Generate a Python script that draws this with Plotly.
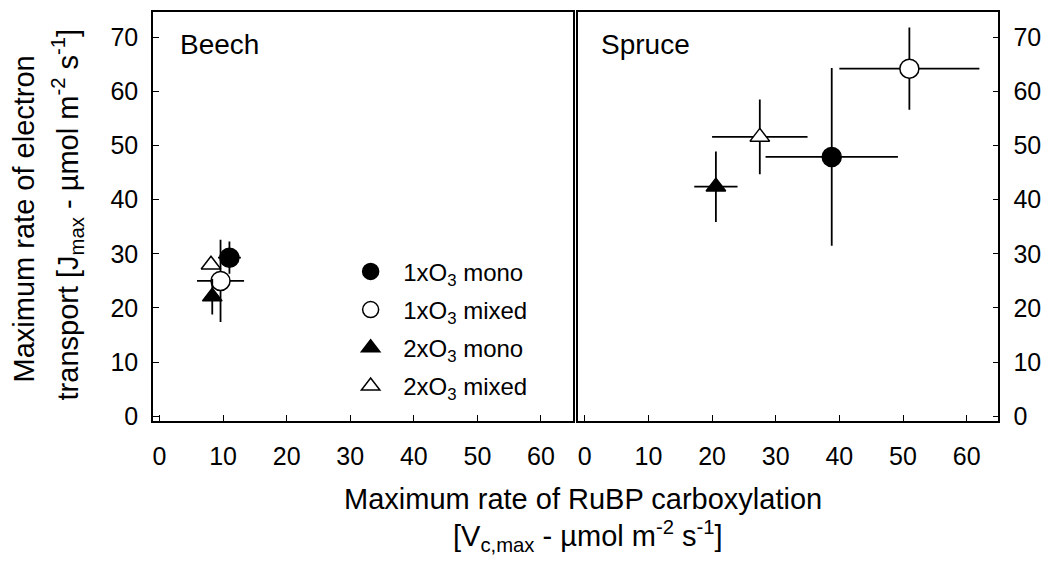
import plotly.graph_objects as go

# ---- data ----
series = ["1xO<sub>3</sub> mono", "1xO<sub>3</sub> mixed", "2xO<sub>3</sub> mono", "2xO<sub>3</sub> mixed"]
symbols = ["circle", "circle-open", "triangle-up", "triangle-up-open"]
fills = ["black", "white", "black", "white"]

beech_vc = [11.0, 9.6, 8.3, 8.1]
beech_vc_err = [1.8, 3.7, 1.0, 0.8]
beech_j = [29.3, 25.0, 22.1, 28.0]
beech_j_err = [3.0, 7.6, 3.3, 0.0]

spruce_vc = [38.8, 51.0, 20.6, 27.5]
spruce_vc_err = [10.4, 11.0, 3.4, 7.5]
spruce_j = [47.9, 64.2, 42.4, 51.6]
spruce_j_err = [16.4, 7.6, 6.5, 6.9]

x_ticks = [0, 10, 20, 30, 40, 50, 60]
y_ticks = [0, 10, 20, 30, 40, 50, 60, 70]

FONT = "Liberation Sans, Arial, sans-serif"

fig = go.Figure()

def add_panel(xs, xe, ys, ye, xa, ya, legend):
    for i in range(4):
        sym = symbols[i].replace("-open", "")
        fig.add_trace(go.Scatter(
            x=[xs[i]], y=[ys[i]], xaxis=xa, yaxis=ya,
            mode="markers", name=series[i],
            legendgroup=f"g{i}", showlegend=legend,
            marker=dict(symbol=sym, size=19 if sym == "circle" else 17,
                        color=fills[i], line=dict(color="black", width=1.5)),
            error_x=dict(type="data", array=[xe[i]], color="black", thickness=1.8, width=0),
            error_y=dict(type="data", array=[ye[i]], color="black", thickness=1.8, width=0),
        ))

add_panel(beech_vc, beech_vc_err, beech_j, beech_j_err, "x", "y", True)
add_panel(spruce_vc, spruce_vc_err, spruce_j, spruce_j_err, "x2", "y2", False)

axis_common = dict(
    showline=True, linecolor="black", linewidth=1.8, mirror=True,
    ticks="inside", ticklen=6, tickwidth=1.3, tickcolor="black",
    showgrid=False, zeroline=False,
    tickfont=dict(family=FONT, size=25, color="black"),
)

fig.update_layout(
    width=1048, height=563,
    margin=dict(l=0, r=0, t=0, b=0),
    paper_bgcolor="white", plot_bgcolor="white",
    font=dict(family=FONT, color="black"),
    xaxis=dict(domain=[0.1453, 0.5461], range=[-1, 65], tickvals=x_ticks,
               anchor="y", ticklabelstandoff=12, **axis_common),
    xaxis2=dict(domain=[0.5515, 0.9527], range=[-1, 65], tickvals=x_ticks,
                anchor="y2", ticklabelstandoff=12, **axis_common),
    yaxis=dict(domain=[0.2398, 0.9787], range=[-0.9, 74.7], tickvals=y_ticks,
               anchor="x", ticklabelstandoff=8, **axis_common),
    yaxis2=dict(domain=[0.2398, 0.9787], range=[-0.9, 74.7], tickvals=y_ticks,
                anchor="x2", side="right", ticklabelstandoff=8, **axis_common),
    showlegend=True,
    legend=dict(x=0.322, y=0.55, xanchor="left", yanchor="top",
                bgcolor="rgba(0,0,0,0)", tracegroupgap=4,
                font=dict(family=FONT, size=24, color="black"),
                itemwidth=55),
)

for txt, px in [("Beech", 177), ("Spruce", 599)]:
    fig.add_annotation(text=txt, x=px / 1048, y=1 - 45 / 563,
                       xref="paper", yref="paper", xanchor="left", yanchor="middle",
                       showarrow=False, font=dict(family=FONT, size=28, color="black"))

title_font = dict(family=FONT, size=29, color="black")
fig.add_annotation(text="Maximum rate of electron", x=23 / 1048, y=1 - 222 / 563,
                   xref="paper", yref="paper", textangle=-90, showarrow=False,
                   xanchor="center", yanchor="middle", font=title_font)
fig.add_annotation(text="transport [J<sub>max</sub> - µmol m<sup>-2</sup> s<sup>-1</sup>]",
                   x=66 / 1048, y=1 - 218 / 563,
                   xref="paper", yref="paper", textangle=-90, showarrow=False,
                   xanchor="center", yanchor="middle", font=title_font)
fig.add_annotation(text="Maximum rate of RuBP carboxylation", x=583 / 1048, y=1 - 507 / 563,
                   xref="paper", yref="paper", showarrow=False,
                   xanchor="center", yanchor="middle", font=title_font)
fig.add_annotation(text="[V<sub>c,max</sub> - µmol m<sup>-2</sup> s<sup>-1</sup>]",
                   x=588 / 1048, y=1 - 545 / 563,
                   xref="paper", yref="paper", showarrow=False,
                   xanchor="center", yanchor="middle", font=title_font)

fig.write_html("out.html")
